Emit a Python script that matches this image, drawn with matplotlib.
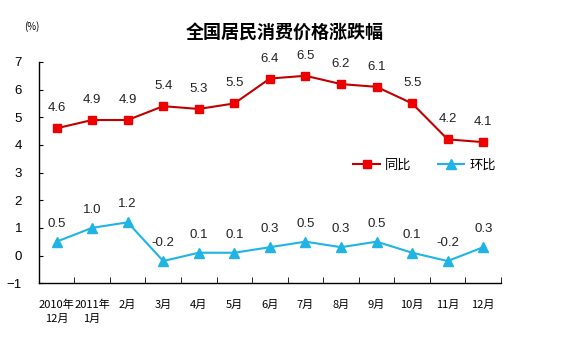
import matplotlib
matplotlib.use("Agg")
import matplotlib.pyplot as plt
from matplotlib.ticker import FixedLocator

plt.rcParams['font.family'] = ['Liberation Sans', 'Noto Sans CJK SC', 'DejaVu Sans']

categories = ["2010年\n12月", "2011年\n1月", "2月", "3月", "4月", "5月", "6月",
              "7月", "8月", "9月", "10月", "11月", "12月"]
tongbi = [4.6, 4.9, 4.9, 5.4, 5.3, 5.5, 6.4, 6.5, 6.2, 6.1, 5.5, 4.2, 4.1]
huanbi = [0.5, 1.0, 1.2, -0.2, 0.1, 0.1, 0.3, 0.5, 0.3, 0.5, 0.1, -0.2, 0.3]
yticks = [-1, 0, 1, 2, 3, 4, 5, 6, 7]

red_line = '#c00000'
red_mark = '#ee0000'
cyan = '#1fb4e4'

fig = plt.figure(figsize=(5.7, 3.5), dpi=100)
ax = fig.add_axes([0.068, 0.191, 0.811, 0.632])

x = list(range(len(categories)))
ax.plot(x, tongbi, color=red_line, lw=1.5, marker='s', ms=6,
        mfc=red_mark, mec=red_mark, label='同比')
ax.plot(x, huanbi, color=cyan, lw=1.5, marker='^', ms=6.5,
        mfc=cyan, mec=cyan, label='环比')

for xi, v in zip(x, tongbi):
    ax.annotate(f"{v:.1f}", (xi, v), xytext=(0, 20), textcoords='offset pixels',
                ha='center', va='center', fontsize=9.5, color='#222222')
for xi, v in zip(x, huanbi):
    ax.annotate(f"{v:.1f}", (xi, v), xytext=(0, 18), textcoords='offset pixels',
                ha='center', va='center', fontsize=9.5, color='#222222')

ax.set_xlim(-0.5, len(categories) - 0.5)
ax.set_ylim(-1, 7)
ax.set_yticks(yticks)
ax.tick_params(axis='y', direction='in', length=3, labelsize=9.5, pad=12)
ax.set_xticks(x)
ax.set_xticklabels(categories, fontsize=8, family=['Noto Sans CJK SC'], linespacing=1.5)
ax.xaxis.set_minor_locator(FixedLocator([i + 0.5 for i in range(-1, len(categories))]))
ax.tick_params(axis='x', which='major', length=0, pad=12)
ax.tick_params(axis='x', which='minor', direction='in', length=4)
for s in ['top', 'right']:
    ax.spines[s].set_visible(False)
for s in ['left', 'bottom']:
    ax.spines[s].set_linewidth(1.0)

leg = ax.legend(loc='center', bbox_to_anchor=(0.835, 0.534), ncol=2, frameon=False,
                handlelength=2.0, columnspacing=2.0, handletextpad=0.4,
                prop={'family': ['Noto Sans CJK SC'], 'size': 9.5})

fig.text(0.5, 0.909, "全国居民消费价格涨跌幅", ha='center', va='center',
         fontsize=13, fontweight='bold', family=['Noto Sans CJK SC'])
fig.text(0.055, 0.923, "(%)", ha='center', va='center', fontsize=7,
         family=['Noto Sans CJK SC'])

fig.savefig("out.png", dpi=100)
